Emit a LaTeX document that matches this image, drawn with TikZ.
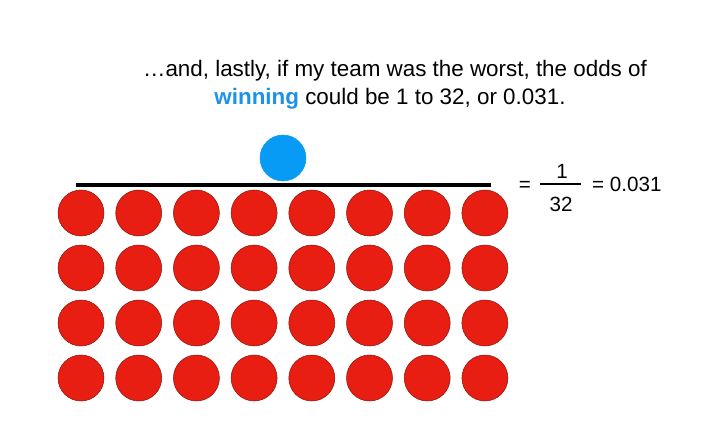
\documentclass[tikz,border=0pt]{standalone}
\usepackage{fontspec}
\setmainfont{Liberation Sans}
\usetikzlibrary{positioning}
\definecolor{ballred}{RGB}{232,30,18}
\definecolor{ballblue}{RGB}{8,155,245}
\definecolor{winblue}{RGB}{28,146,232}
\begin{document}
\begin{tikzpicture}[x=1pt,y=-1pt,
every node/.style={inner sep=0pt},
ball/.style={circle,minimum size=46pt,fill=ballred,draw=ballred!60!black,line width=0.5pt},
bigtxt/.style={font=\fontsize{22.4}{28}\selectfont,anchor=base},
eqtxt/.style={font=\fontsize{20.6}{24}\selectfont,anchor=base}]
\useasboundingbox (0,0) rectangle (713,436);
% caption
\node[bigtxt] (line1) at (395,77) {\dots and, lastly, if my team was the worst, the odds of};
\node[bigtxt] (line2) at (390,105) {\textcolor{winblue}{\textbf{winning}} could be 1 to 32, or 0.031.};
% the one winning ball over the line
\node[ball,fill=ballblue,draw=ballblue] (win) at (283,158) {};
\coordinate (barL) at (76,185);
\coordinate (barR) at (491,185);
\draw[line width=3.2pt] (barL)--(barR);
% the 32 balls
\foreach \r/\y in {1/213,2/268,3/323,4/378}
  \foreach \c in {1,...,8}
    \node[ball] (b\r\c) at ({81+57.7*(\c-1)},\y) {};
% the odds
\node[eqtxt] (eq1) at (525,191) {=};
\node[eqtxt] (num) at (562,178) {1};
\node[eqtxt] (den) at (561,211) {32};
\coordinate (fracL) at (540,184);
\coordinate (fracR) at (581,184);
\draw[line width=2.6pt] (fracL)--(fracR);
\node[eqtxt,anchor=base west] (odds) at (592,191) {= 0.031};
\end{tikzpicture}
\end{document}
